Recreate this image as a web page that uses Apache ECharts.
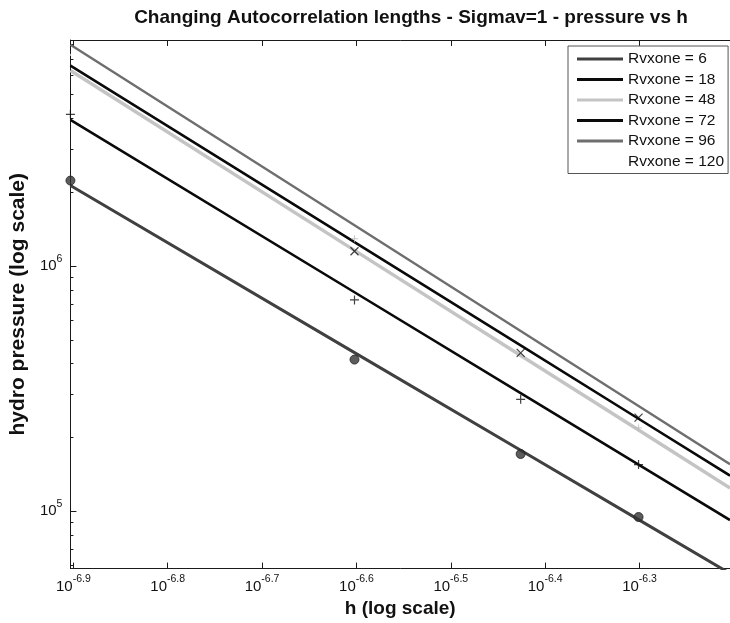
<!DOCTYPE html>
<html>
<head>
<meta charset="utf-8">
<title>Changing Autocorrelation lengths - Sigmav=1 - pressure vs h</title>
<script src="https://cdn.jsdelivr.net/npm/echarts@6/dist/echarts.min.js"></script>
<style>
  html, body { margin: 0; padding: 0; background: #fff; }
  #chart { width: 730px; height: 623px; }
</style>
</head>
<body>
<div id="chart"></div>
<script>
// Step size h (log axis)
const hValues = [1.25e-7, 2.5e-7, 3.75e-7, 5e-7, 6.25e-7];
const hRange = [1.25e-7, 6.25e-7];
const pRange = [5.84e4, 8.36e6];

// Autocorrelation lengths, one fitted line each
const rvxone = [6, 18, 48, 72, 96, 120];

// Fitted hydro pressure at each h
const fit6 = [2.131e6, 4.437e5, 1.774e5, 9.25e4, 5.58e4];
const fit18 = [3.946e6, 7.824e5, 3.035e5, 1.551e5, 9.21e4];
const fit48 = [6.275e6, 1.160e6, 4.319e5, 2.145e5, 1.244e5];
const fit72 = [6.576e6, 1.252e6, 4.747e5, 2.385e5, 1.398e5];
const fit96 = [8.0e6, 1.467e6, 5.435e5, 2.69e5, 1.557e5];
const fit120 = [7.3e6, 1.36e6, 5.1e5, 2.55e5, 1.48e5];

// Computed pressure samples (null = not shown)
const pts6 = [2.233e6, 4.157e5, 1.713e5, 9.48e4, null];
const pts18 = [4.161e6, 7.28e5, 2.862e5, 1.551e5, null];
const pts48 = [null, 1.293e6, null, 2.19e5, null];
const pts72 = [null, 1.150e6, 4.426e5, 2.412e5, null];

// Tick positions (exponents of 10)
const xTickExp = [-6.9, -6.8, -6.7, -6.6, -6.5, -6.4, -6.3];
const yTickExp = [5, 6];
const yMinorTicks = [6e4, 7e4, 8e4, 9e4,
  2e5, 3e5, 4e5, 5e5, 6e5, 7e5, 8e5, 9e5,
  2e6, 3e6, 4e6, 5e6, 6e6, 7e6, 8e6];

const lg = Math.log10;
const toXY = (ys) => hValues
  .map((h, i) => (ys[i] == null ? null : [lg(h), lg(ys[i])]))
  .filter((d) => d !== null);

const FONT = '"Liberation Sans", Arial, Helvetica, sans-serif';
const AXIS_COLOR = '#1a1a1a';

// 10 with the exponent written as a superscript
const powLabel = (v) => {
  const e = Math.round(v * 10) / 10;
  return '{b|10}{s|' + (Number.isInteger(e) ? e.toFixed(0) : e.toFixed(1)) + '}';
};
const richPow = {
  b: { fontSize: 15, lineHeight: 26, fontFamily: FONT, color: '#111' },
  s: { fontSize: 10.5, lineHeight: 12, verticalAlign: 'top', fontFamily: FONT, color: '#111' }
};

const xMin = lg(hRange[0]), xMax = lg(hRange[1]);
const yMin = lg(pRange[0]), yMax = lg(pRange[1]);

const lineDefs = [
  { name: 'Rvxone = ' + rvxone[0], data: fit6, color: '#404040', width: 3, z: 6 },
  { name: 'Rvxone = ' + rvxone[1], data: fit18, color: '#0a0a0a', width: 2.6, z: 5 },
  { name: 'Rvxone = ' + rvxone[2], data: fit48, color: '#c4c4c4', width: 3.4, z: 3 },
  { name: 'Rvxone = ' + rvxone[3], data: fit72, color: '#0a0a0a', width: 2.6, z: 4 },
  { name: 'Rvxone = ' + rvxone[4], data: fit96, color: '#6e6e6e', width: 2.4, z: 2 },
  { name: 'Rvxone = ' + rvxone[5], data: fit120, color: '#ffffff', width: 2, z: 1 }
];

const plusPath = 'path://M0,5L10,5M5,0L5,10';
const crossPath = 'path://M0,0L10,10M10,0L0,10';

const series = lineDefs.map((d) => ({
  name: d.name,
  type: 'line',
  data: toXY(d.data),
  showSymbol: false,
  symbol: 'none',
  color: d.color,
  lineStyle: { color: d.color, width: d.width },
  z: d.z,
  silent: true,
  animation: false
}));

series.push(
  {
    type: 'scatter', data: toXY(pts6), symbol: 'circle', symbolSize: 9,
    itemStyle: { color: '#333', borderColor: '#222', borderWidth: 1 }, z: 10, silent: true, animation: false
  },
  {
    type: 'scatter', data: toXY(pts18), symbol: plusPath, symbolSize: 9,
    itemStyle: { color: 'transparent', borderColor: '#111', borderWidth: 1.2 }, z: 10, silent: true, animation: false
  },
  {
    type: 'scatter', data: toXY(pts48), symbol: plusPath, symbolSize: 7,
    itemStyle: { color: 'transparent', borderColor: '#bbb', borderWidth: 1 }, z: 10, silent: true, animation: false
  },
  {
    type: 'scatter', data: toXY(pts72), symbol: crossPath, symbolSize: 8,
    itemStyle: { color: 'transparent', borderColor: '#111', borderWidth: 1.2 }, z: 10, silent: true, animation: false
  }
);

const chart = echarts.init(document.getElementById('chart'), null, { renderer: 'canvas' });

chart.setOption({
  animation: false,
  backgroundColor: '#fff',
  title: {
    text: 'Changing Autocorrelation lengths - Sigmav=1 - pressure vs h',
    left: 406, top: 3, textAlign: 'center',
    textStyle: { fontFamily: FONT, fontSize: 19, fontWeight: 'bold', color: '#111' }
  },
  // the axes box runs a little past the right edge of the page
  grid: { left: 66.5, top: 40, width: 669.6, height: 532, containLabel: false },
  legend: {
    data: lineDefs.map((d) => d.name),
    orient: 'vertical',
    left: 568, top: 46,
    padding: [5, 4, 4, 9],
    itemWidth: 46, itemHeight: 3, itemGap: 4.5,
    icon: 'rect',
    backgroundColor: '#fff',
    borderColor: '#555', borderWidth: 1, borderRadius: 0,
    selectedMode: false,
    textStyle: { fontFamily: FONT, fontSize: 15.5, color: '#111' }
  },
  xAxis: [
    {
      type: 'value', position: 'bottom', min: xMin, max: xMax,
      name: 'h (log scale)', nameLocation: 'middle', nameGap: 28,
      nameTextStyle: { fontFamily: FONT, fontSize: 19, fontWeight: 'bold', color: '#111' },
      axisLine: { lineStyle: { color: AXIS_COLOR, width: 1 } },
      axisTick: { inside: true, length: 6, customValues: xTickExp, lineStyle: { color: AXIS_COLOR } },
      axisLabel: { customValues: xTickExp, margin: 5, formatter: powLabel, rich: richPow },
      splitLine: { show: false }
    },
    {
      type: 'value', position: 'top', min: xMin, max: xMax,
      axisLine: { lineStyle: { color: AXIS_COLOR, width: 1 } },
      axisTick: { inside: true, length: 6, customValues: xTickExp, lineStyle: { color: AXIS_COLOR } },
      axisLabel: { show: false },
      splitLine: { show: false }
    }
  ],
  yAxis: [
    {
      type: 'value', position: 'left', min: yMin, max: yMax,
      name: 'hydro pressure (log scale)', nameLocation: 'middle', nameGap: 31,
      nameTextStyle: { fontFamily: FONT, fontSize: 21, fontWeight: 'bold', color: '#111' },
      axisLine: { show: true, lineStyle: { color: AXIS_COLOR, width: 1 } },
      axisTick: { inside: true, length: 6, customValues: yTickExp, lineStyle: { color: AXIS_COLOR } },
      axisLabel: { customValues: yTickExp, margin: 8, formatter: powLabel, rich: richPow },
      splitLine: { show: false }
    },
    {
      type: 'value', position: 'left', min: yMin, max: yMax,
      axisLine: { show: false },
      axisTick: { inside: true, length: 3, customValues: yMinorTicks.map(lg), lineStyle: { color: AXIS_COLOR } },
      axisLabel: { show: false },
      splitLine: { show: false }
    },
    {
      type: 'value', position: 'right', min: yMin, max: yMax,
      axisLine: { show: true, lineStyle: { color: AXIS_COLOR, width: 1 } },
      axisTick: { show: false },
      axisLabel: { show: false },
      splitLine: { show: false }
    }
  ],
  series: series
});
</script>
</body>
</html>
